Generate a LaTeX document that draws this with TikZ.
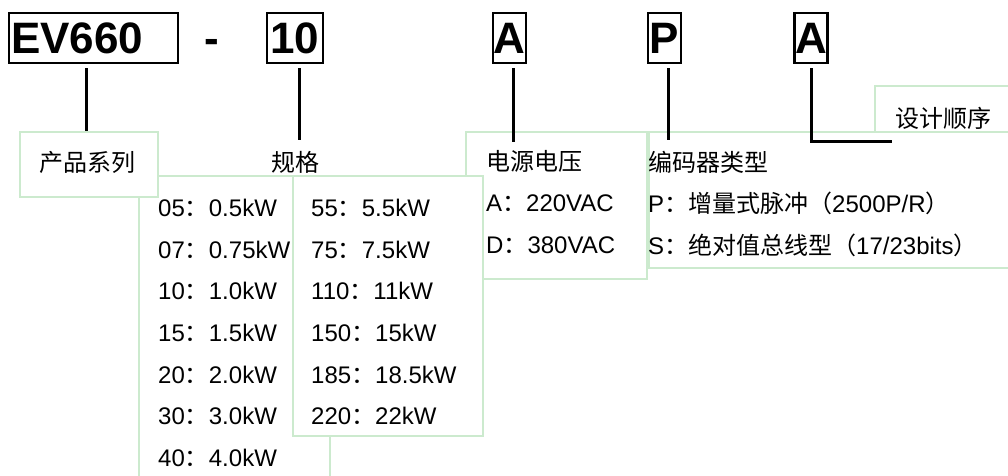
\documentclass[tikz,border=0pt]{standalone}
\usepackage{fontspec}
\setmainfont{Liberation Sans}
\newfontfamily\cjk{Noto Sans CJK SC}
\newcommand{\zh}[1]{{\cjk #1}}
\definecolor{framegreen}{RGB}{204,234,206}

\begin{document}
\begin{tikzpicture}[x=1pt, y=-1pt,
    codebox/.style={draw, line width=2.4pt, inner sep=0pt, minimum height=50pt,
                    font=\fontsize{44}{48}\selectfont\bfseries},
    zonebox/.style={draw=framegreen, line width=1.5pt, fill=white, inner sep=0pt,
                    anchor=north west},
    lead/.style={line width=3pt},
    entry/.style={anchor=base west, inner sep=0pt, font=\fontsize{24}{28}\selectfont}]

    \clip (0,0) rectangle (1008,475);

    % model code
    \node[codebox, inner xsep=2pt, text width=165pt, align=left] (series) at (93.5,38) {EV660};
    \node[anchor=base, inner sep=0pt, font=\fontsize{44}{48}\selectfont\bfseries] (dash) at (211.5,53) {-};
    \node[codebox, minimum width=56pt] (rating) at (295,38) {10};
    \node[codebox, minimum width=33pt] (voltage) at (509.5,38) {A};
    \node[codebox, minimum width=33pt] (encoder) at (664.5,38) {P};
    \node[codebox, minimum width=33pt] (revision) at (811,38) {A};

    % frames
    \node[zonebox, minimum width=150pt, minimum height=55pt] (revisionzone) at (874,85) {};
    \node[zonebox, minimum width=380pt, minimum height=136pt] (encoderzone) at (648,131) {};
    \node[zonebox, minimum width=181pt, minimum height=147pt] (voltagezone) at (465,131) {};
    \node[zonebox, minimum width=191pt, minimum height=320pt] (leftzone) at (138,175) {};
    \node[zonebox, minimum width=190pt, minimum height=260pt] (rightzone) at (292,175) {};
    \node[zonebox, minimum width=138pt, minimum height=65pt] (serieszone) at (19,131) {};

    % headings
    \node[entry] (serieslabel) at (39,171) {\zh{产品系列}};
    \node[entry] (ratinglabel) at (271,171) {\zh{规格}};
    \node[entry] (voltagelabel) at (486,170.5) {\zh{电源电压}};
    \node[entry] (encoderlabel) at (648.5,171) {\zh{编码器类型}};
    \node[entry] (revisionlabel) at (895,127) {\zh{设计顺序}};

    % ratings
    \foreach \code/\kw [count=\i] in {05/0.5, 07/0.75, 10/1.0, 15/1.5, 20/2.0, 30/3.0, 40/4.0}
        \node[entry] (left\i) at (158,{216.7+41.6*(\i-1)}) {\code\zh{：}\kw kW};
    \foreach \code/\kw [count=\i] in {55/5.5, 75/7.5, 110/11, 150/15, 185/18.5, 220/22}
        \node[entry] (right\i) at (311,{216.7+41.6*(\i-1)}) {\code\zh{：}\kw kW};

    \node[entry] (vac1) at (486,211.7) {A\zh{：}220VAC};
    \node[entry] (vac2) at (486,253.3) {D\zh{：}380VAC};
    \node[entry] (enc1) at (648,212.5) {P\zh{：增量式脉冲（}2500P/R\zh{）}};
    \node[entry] (enc2) at (648,254) {S\zh{：绝对值总线型（}17/23bits\zh{）}};

    % leads
    \coordinate (seriesfoot) at (86,131);
    \coordinate (ratingfoot) at (299,140);
    \coordinate (voltagefoot) at (513,142);
    \coordinate (encoderfoot) at (668,140);
    \coordinate (revisionfoot) at (892,141);
    \draw[lead, shorten <=4pt] (series.south -| seriesfoot) -- (seriesfoot);
    \draw[lead, shorten <=4pt] (rating.south -| ratingfoot) -- (ratingfoot);
    \draw[lead, shorten <=4pt] (voltage.south -| voltagefoot) -- (voltagefoot);
    \draw[lead, shorten <=4pt] (encoder.south -| encoderfoot) -- (encoderfoot);
    \draw[lead, shorten <=4pt] (revision.south) |- (revisionfoot);
\end{tikzpicture}
\end{document}
